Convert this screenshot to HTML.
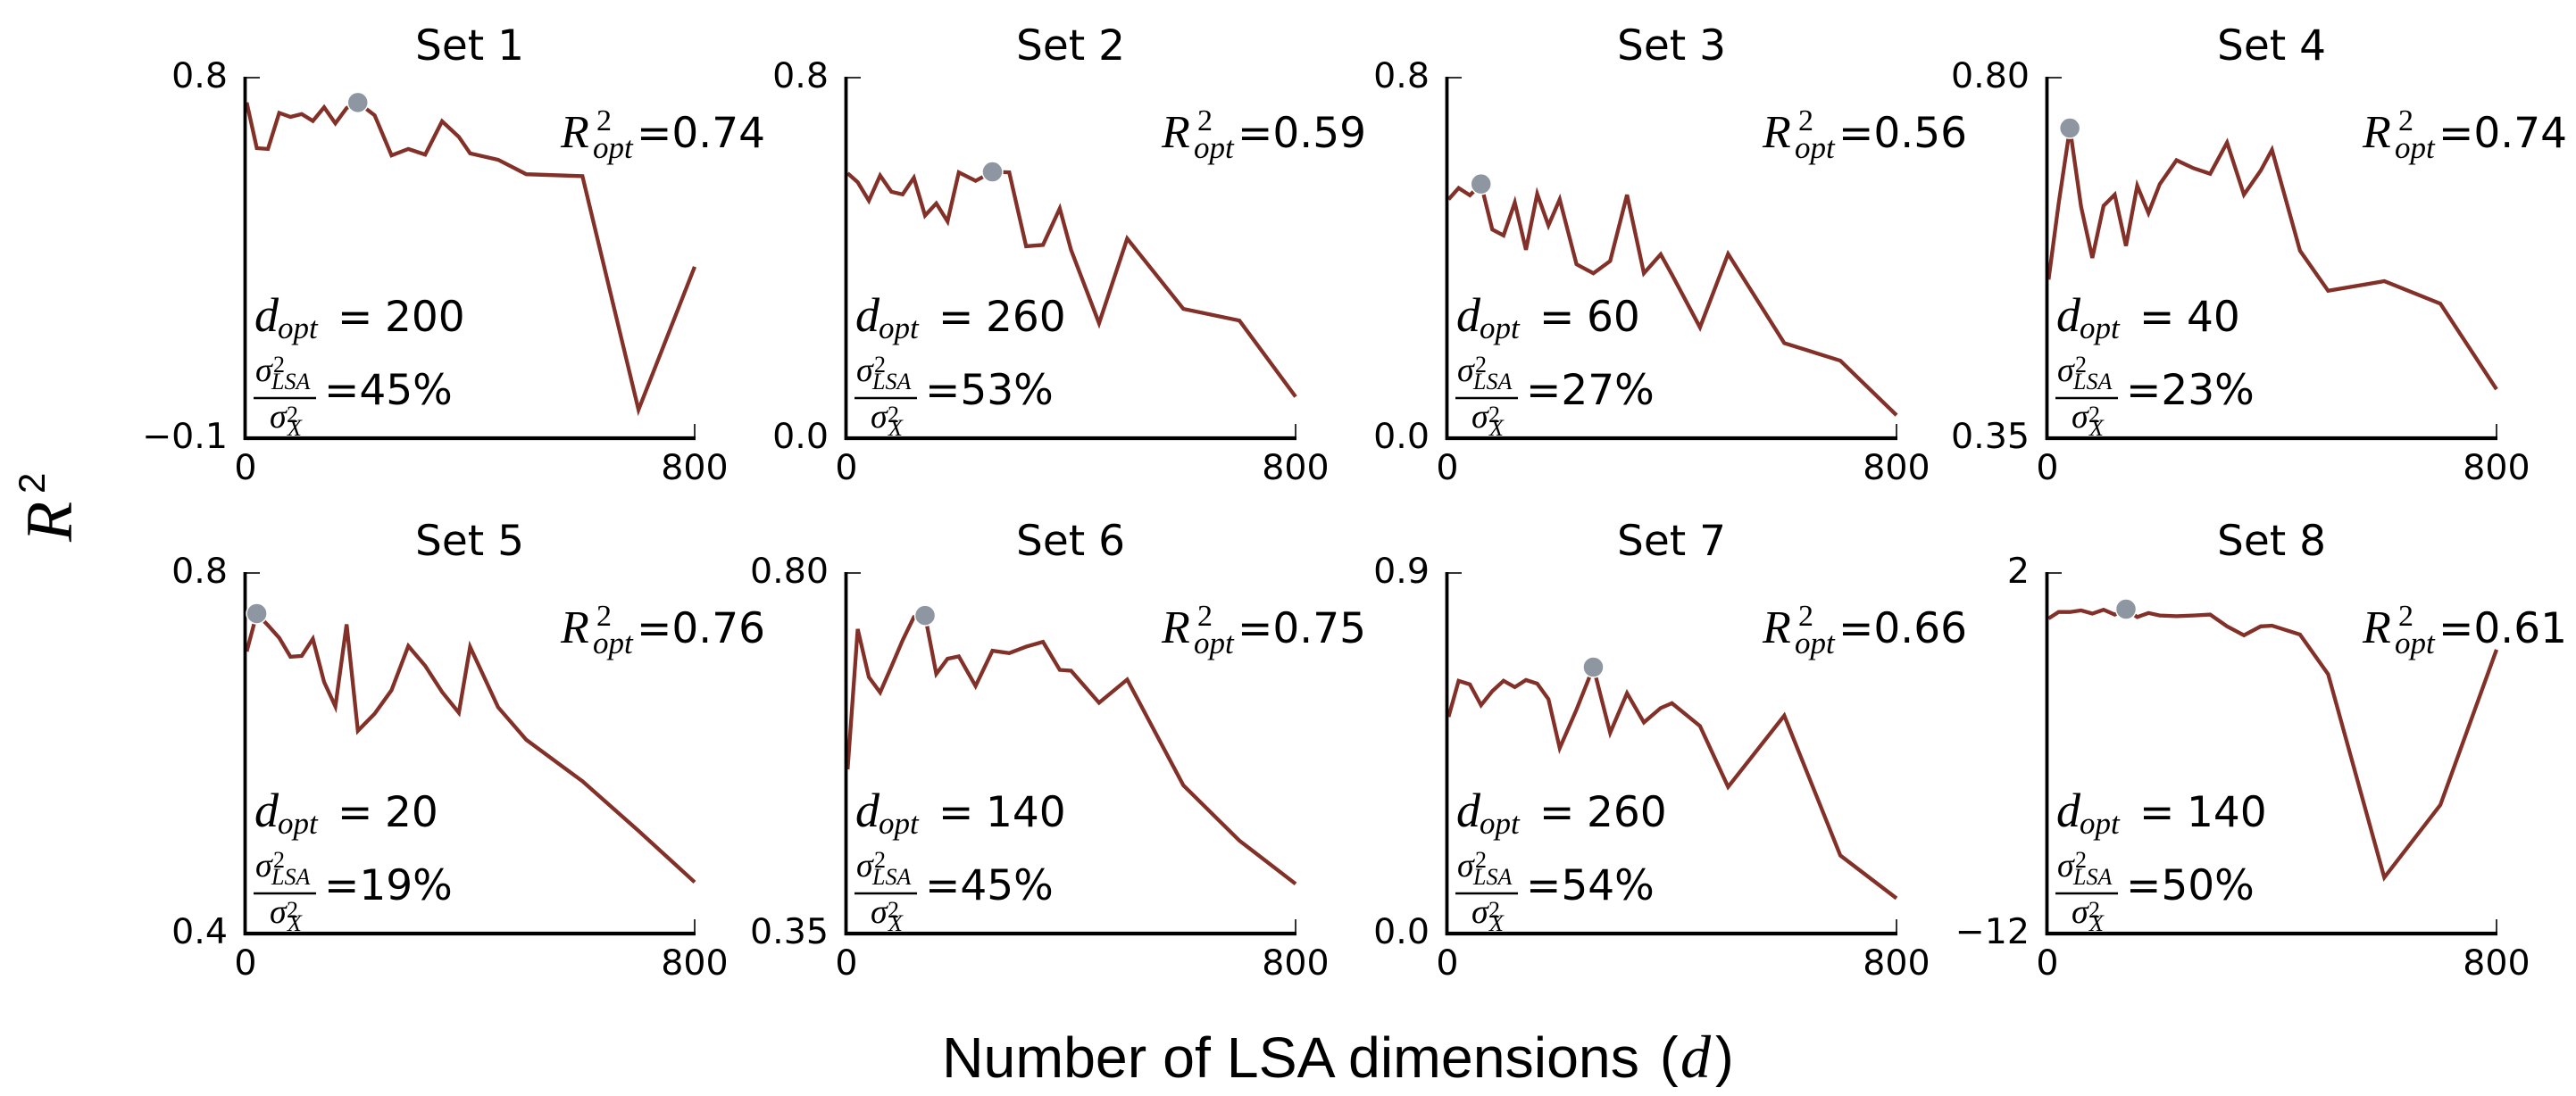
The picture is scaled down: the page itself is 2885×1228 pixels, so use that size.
<!DOCTYPE html>
<html lang="en">
<head>
<meta charset="utf-8">
<title>R squared versus number of LSA dimensions</title>
<style>
html,body{margin:0;padding:0;background:#fff;}
svg{display:block;}
.sans{font-family:"DejaVu Sans","Liberation Sans",sans-serif;fill:#000;}
.math{font-family:"Liberation Serif",serif;font-style:italic;fill:#000;}
.up{font-family:"Liberation Serif",serif;fill:#000;}
</style>
</head>
<body>
<svg id="chart" xmlns="http://www.w3.org/2000/svg" width="2885" height="1228" viewBox="0 0 2885 1228">
  <rect x="0" y="0" width="2885" height="1228" fill="#ffffff"/>
  <g id="panels"></g>
  <text x="1055" y="1207" font-size="64" textLength="781" lengthAdjust="spacingAndGlyphs" style="font-family:'Liberation Sans',sans-serif">Number of LSA dimensions</text>
  <text x="1859" y="1205" font-size="62" style="font-family:'Liberation Sans',sans-serif">(</text>
  <text class="math" x="1882" y="1207" font-size="68">d</text>
  <text x="1921" y="1205" font-size="62" style="font-family:'Liberation Sans',sans-serif">)</text>
  <text class="math" font-size="74" transform="translate(80 607) rotate(-90)">R</text>
  <text font-size="42" style="font-family:'Liberation Sans',sans-serif" transform="translate(50 553) rotate(-90)">2</text>
</svg>
<script>
// x values shared by all panels: LSA dimensions
const dimensions = [2,20,40,60,80,100,120,140,160,180,200,230,260,290,320,350,380,400,450,500,600,700,800];

// R^2 values for each set
const set1 = [.738,.624,.622,.712,.702,.709,.692,.726,.686,.724,.738,.706,.606,.622,.608,.691,.652,.611,.595,.559,.554,-.029,.328];
const set2 = [.588,.568,.527,.583,.547,.541,.578,.494,.521,.481,.590,.571,.591,.590,.426,.429,.510,.418,.255,.443,.287,.261,.092];
const set3 = [.530,.555,.539,.564,.463,.450,.523,.418,.542,.472,.530,.386,.366,.393,.540,.366,.408,.363,.246,.409,.211,.172,.051];
const set4 = [.548,.643,.737,.639,.575,.640,.654,.590,.665,.631,.667,.697,.687,.680,.719,.654,.684,.710,.584,.534,.546,.518,.411];
const set5 = [.713,.755,.742,.728,.707,.708,.727,.679,.652,.743,.625,.644,.670,.719,.697,.668,.645,.718,.651,.615,.569,.514,.457];
const set6 = [.555,.730,.670,.651,.683,.716,.745,.747,.674,.693,.696,.659,.703,.700,.708,.714,.679,.678,.638,.667,.535,.466,.412];
const set7 = [.541,.631,.622,.570,.605,.631,.615,.633,.624,.585,.463,.559,.665,.501,.600,.527,.563,.575,.518,.366,.544,.195,.088];
const set8 = [.236,.486,.486,.548,.423,.572,.385,.597,.288,.448,.351,.323,.351,.385,-.072,-.419,-.072,-.045,-.391,-1.930,-9.824,-7.003,-.977];

const panelTitles = ["Set 1","Set 2","Set 3","Set 4","Set 5","Set 6","Set 7","Set 8"];
const yMaxValues = [0.8,0.8,0.8,0.8,0.8,0.8,0.9,2];
const yMinValues = [-0.1,0,0,0.35,0.4,0.35,0,-12];
const yTopLabels = ["0.8","0.8","0.8","0.80","0.8","0.80","0.9","2"];
const yBottomLabels = ["\u22120.1","0.0","0.0","0.35","0.4","0.35","0.0","\u221212"];
const xTickLabels = ["0","800"];
const xDomain = [0,800];
const optimalDims = [200,260,60,40,20,140,260,140];
const rOptLabels = ["0.74","0.59","0.56","0.74","0.76","0.75","0.66","0.61"];
const varianceLabels = ["45%","53%","27%","23%","19%","45%","54%","50%"];
const allSeries = [set1,set2,set3,set4,set5,set6,set7,set8];

const NS = "http://www.w3.org/2000/svg";
const root = document.getElementById("panels");
const lineColor = "#823028";
const dotColor = "#8e97a1";

function make(tag, attrs, parent){
  const el = document.createElementNS(NS, tag);
  for (const k in attrs) el.setAttribute(k, attrs[k]);
  parent.appendChild(el);
  return el;
}
function label(parent, str, x, y, size, cls, anchor){
  const el = make("text", {x:x, y:y, "font-size":size, "class":cls, "text-anchor":anchor || "start"}, parent);
  el.textContent = str;
  return el;
}
function panelLeft(i){ return [275,948,1621,2293][i % 4]; }
function panelTop(i){ return i < 4 ? 87 : 642; }
const plotWidth = 503;
const plotHeight = 404;
function xScale(i, d){
  return panelLeft(i) + (d - xDomain[0]) / (xDomain[1] - xDomain[0]) * plotWidth;
}
function yScale(i, v){
  return panelTop(i) + (yMaxValues[i] - v) / (yMaxValues[i] - yMinValues[i]) * plotHeight;
}

allSeries.forEach(function(series, i){
  const L = panelLeft(i), T = panelTop(i), B = T + plotHeight, R = L + plotWidth;
  const g = make("g", {}, root);
  
  

  const title = label(g, panelTitles[i], L + 251, T - 20, 47, "sans", "middle");
  
  

  const path = make("polyline", {
    points: series.map(function(v, k){ return xScale(i, dimensions[k]).toFixed(1) + "," + yScale(i, v).toFixed(1); }).join(" "),
    fill: "none", stroke: lineColor, "stroke-width": 4.3, "stroke-linejoin": "miter"
  }, g);
  
  

  const spineY = make("line", {x1:L-0.5, y1:T-1, x2:L-0.5, y2:B+2, stroke:"#000", "stroke-width":3.8}, g);
  
  

  const spineX = make("line", {x1:L-2, y1:B, x2:R+1, y2:B, stroke:"#000", "stroke-width":4.2}, g);
  
  

  const tickY = make("line", {x1:L, y1:T, x2:L+16, y2:T, stroke:"#000", "stroke-width":1.6}, g);
  
  

  const tickX = make("line", {x1:R, y1:B, x2:R, y2:B-16, stroke:"#000", "stroke-width":1.6}, g);
  
  

  const yTop = label(g, yTopLabels[i], L - 20, T + 11, 39.5, "sans", "end");
  
  

  const yBottom = label(g, yBottomLabels[i], L - 20, B + 11, 39.5, "sans", "end");
  
  

  const xStart = label(g, xTickLabels[0], xScale(i, xDomain[0]), B + 46, 39.5, "sans", "middle");
  
  

  const xEnd = label(g, xTickLabels[1], xScale(i, xDomain[1]), B + 46, 39.5, "sans", "middle");
  
  

  const optIndex = dimensions.indexOf(optimalDims[i]);
  const dot = make("circle", {cx:xScale(i, optimalDims[i]), cy:yScale(i, series[optIndex]), r:11.5, fill:dotColor, stroke:"#fff", "stroke-width":1.5}, g);
  
  

  // R^2_opt annotation
  const rSym = label(g, "R", L + 353, T + 78, 52, "math");
  
  
  const rSup = label(g, "2", L + 393, T + 59, 34, "up");
  
  
  const rSub = label(g, "opt", L + 389, T + 90, 35, "math");
  
  
  const rVal = label(g, "=" + rOptLabels[i], L + 438, T + 78, 47, "sans");
  
  

  // d_opt annotation
  const dSym = label(g, "d", L + 10, T + 284, 54, "math");
  
  
  const dSub = label(g, "opt", L + 36, T + 292, 35, "math");
  
  
  const dEq = label(g, "=", L + 103, T + 284, 47, "sans");
  
  
  const dVal = label(g, String(optimalDims[i]), L + 156, T + 284, 47, "sans");
  
  

  // variance fraction annotation
  const s1 = label(g, "\u03C3", L + 11, T + 340, 38, "math");
  
  
  const s1Sup = label(g, "2", L + 31, T + 330, 26, "up");
  
  
  const s1Sub = label(g, "LSA", L + 29, T + 349, 26, "math");
  
  
  const bar = make("line", {x1:L + 9, y1:T + 359, x2:L + 79, y2:T + 359, stroke:"#000", "stroke-width":2.6}, g);
  
  
  const s2 = label(g, "\u03C3", L + 27, T + 392, 38, "math");
  
  
  const s2Sup = label(g, "2", L + 46, T + 386, 26, "up");
  
  
  const s2Sub = label(g, "X", L + 47, T + 401, 26, "math");
  
  
  const vVal = label(g, "=" + varianceLabels[i], L + 88, T + 366, 47, "sans");
  
  
});
</script>
</body>
</html>
